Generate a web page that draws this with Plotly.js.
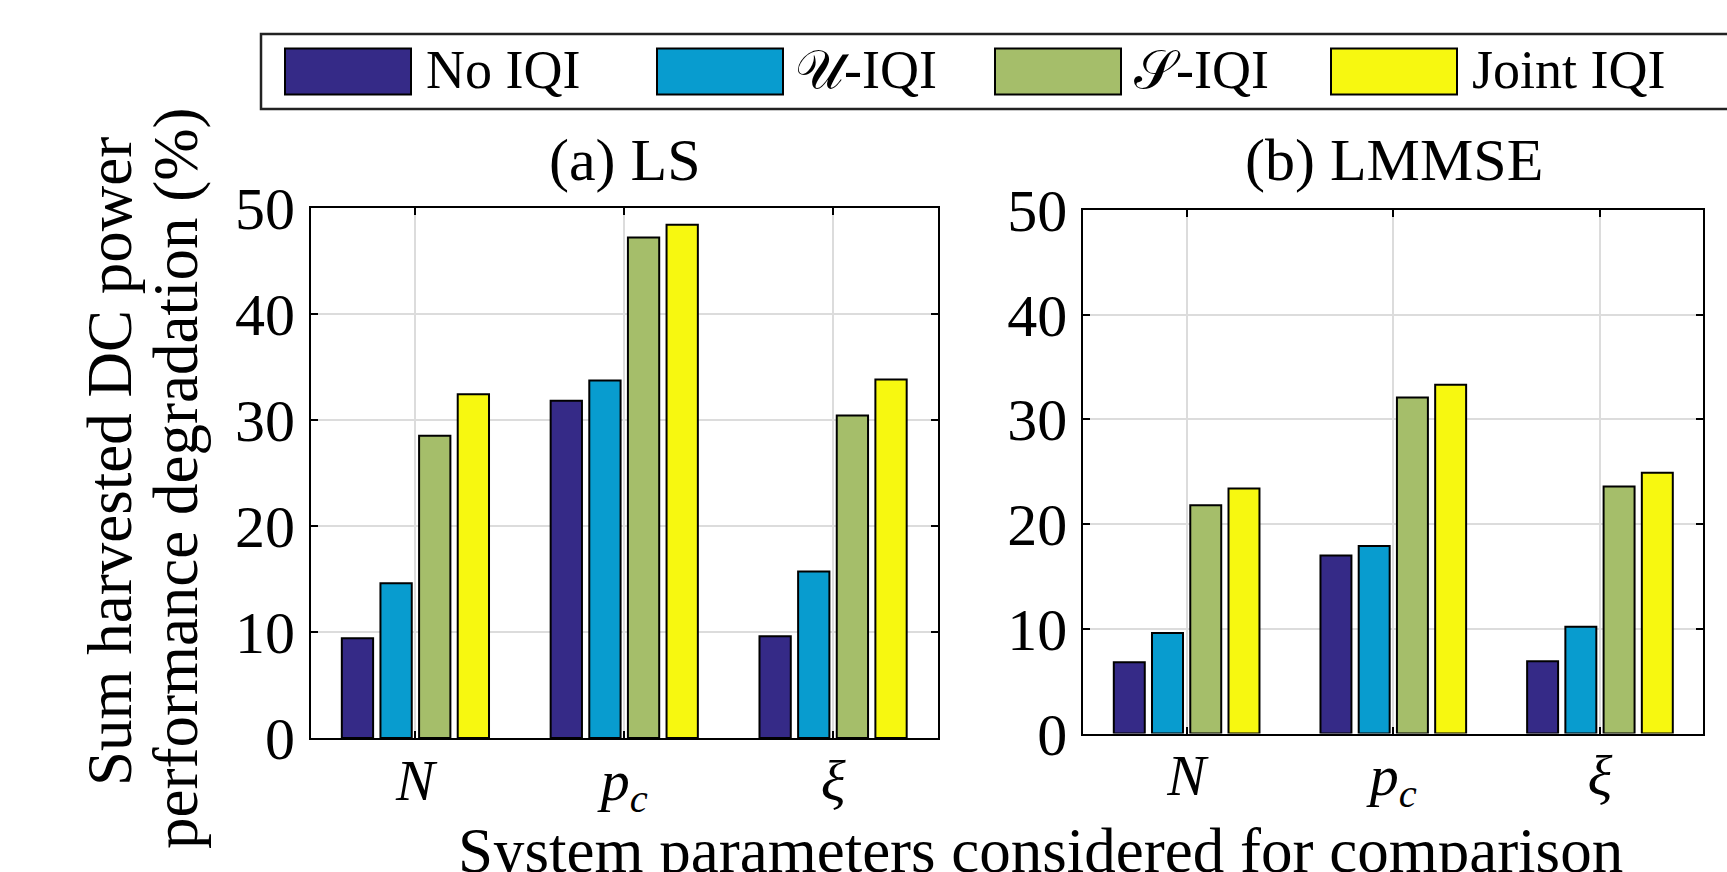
<!DOCTYPE html>
<html>
<head>
<meta charset="utf-8">
<script src="https://cdn.plot.ly/plotly-3.0.1.min.js"></script>
<style>html,body{margin:0;padding:0;background:#fff;}#chart{width:1727px;height:872px;}</style>
</head>
<body>
<div id="chart"></div>
<script>
// ---- data ----
const categories = ["<i>N</i>", "<i>p</i><sub><span style=\"color:#000\"><i>c</i></span></sub>", "<i>ξ</i>"];
const seriesNames = ["No IQI", "𝒰-IQI", "𝒮-IQI", "Joint IQI"];
const seriesColors = ["#352A87", "#089CCF", "#A5BE6A", "#F7F810"];
// (a) LS
const lsNoIQI    = [9.4, 31.8, 9.6];
const lsUIQI     = [14.6, 33.7, 15.7];
const lsSIQI     = [28.5, 47.2, 30.4];
const lsJointIQI = [32.4, 48.4, 33.8];
// (b) LMMSE
const lmNoIQI    = [6.8, 17.0, 6.9];
const lmUIQI     = [9.6, 17.9, 10.2];
const lmSIQI     = [21.8, 32.1, 23.6];
const lmJointIQI = [23.4, 33.3, 24.9];
const yTickVals = [0, 10, 20, 30, 40, 50];
const panelTitles = ["(a) LS", "(b) LMMSE"];
const yTitleLines = ["Sum harvested DC power", "performance degradation (%)"];
const xTitle = "System parameters considered for comparison";

const W = 1727, H = 872;
const px = v => v / W;
const py = v => 1 - v / H;
const FONT = "'Liberation Serif', 'DejaVu Serif', serif";

const lsData = [lsNoIQI, lsUIQI, lsSIQI, lsJointIQI];
const lmData = [lmNoIQI, lmUIQI, lmSIQI, lmJointIQI];

const traces = [];
lsData.forEach((vals, i) => traces.push({
  type: "bar", x: categories, y: vals, name: seriesNames[i], xaxis: "x", yaxis: "y",
  marker: {color: seriesColors[i], line: {color: "#000", width: 2}}, showlegend: false
}));
lmData.forEach((vals, i) => traces.push({
  type: "bar", x: categories, y: vals, name: seriesNames[i], xaxis: "x2", yaxis: "y2",
  marker: {color: seriesColors[i], line: {color: "#000", width: 2}}, showlegend: false
}));

function xAxis(domain, anchor) {
  return {
    domain: domain, anchor: anchor, type: "category",
    showline: true, linecolor: "#000", linewidth: 2, mirror: "ticks",
    ticks: "inside", ticklen: 7, tickwidth: 2, tickcolor: "#000",
    showgrid: true, gridcolor: "#dcdcdc", gridwidth: 2,
    tickfont: {family: FONT, size: 58, color: "#000"},
    ticklabelstandoff: -10, zeroline: false, fixedrange: true
  };
}
function yAxis(domain, anchor) {
  return {
    domain: domain, anchor: anchor, range: [0, 50], tickvals: yTickVals,
    showline: true, linecolor: "#000", linewidth: 2, mirror: "ticks",
    ticks: "inside", ticklen: 7, tickwidth: 2, tickcolor: "#000",
    showgrid: true, gridcolor: "#dcdcdc", gridwidth: 2,
    tickfont: {family: FONT, size: 60, color: "#000"},
    ticklabelstandoff: 2, zeroline: false, fixedrange: true
  };
}

const shapes = [];
const annotations = [];

// Legend box
shapes.push({type: "rect", xref: "paper", yref: "paper",
  x0: px(261), x1: px(1740), y0: py(109), y1: py(34),
  line: {color: "#222", width: 2.5}, fillcolor: "#fff", layer: "below"});
const swX = [285, 657, 995, 1331];
const txX = [424, 793, 1132, 1470];
seriesNames.forEach((n, i) => {
  shapes.push({type: "rect", xref: "paper", yref: "paper",
    x0: px(swX[i]), x1: px(swX[i] + 126), y0: py(94.5), y1: py(48.5),
    line: {color: "#000", width: 2}, fillcolor: seriesColors[i]});
  annotations.push({xref: "paper", yref: "paper", x: px(txX[i]), y: py(70),
    xanchor: "left", yanchor: "middle", text: n, showarrow: false,
    font: {family: FONT, size: 54, color: "#000"}});
});

// Panel titles
annotations.push({xref: "paper", yref: "paper", x: px(624.5), y: py(160), xanchor: "center", yanchor: "middle",
  text: panelTitles[0], showarrow: false, font: {family: FONT, size: 60, color: "#000"}});
annotations.push({xref: "paper", yref: "paper", x: px(1393.5), y: py(160), xanchor: "center", yanchor: "middle",
  text: panelTitles[1], showarrow: false, font: {family: FONT, size: 60, color: "#000"}});
// Y title (two lines)
annotations.push({xref: "paper", yref: "paper", x: px(110), y: py(462), xanchor: "center", yanchor: "middle",
  text: yTitleLines[0], textangle: -90, showarrow: false, font: {family: FONT, size: 63, color: "#000"}});
annotations.push({xref: "paper", yref: "paper", x: px(176), y: py(478), xanchor: "center", yanchor: "middle",
  text: yTitleLines[1], textangle: -90, showarrow: false, font: {family: FONT, size: 63, color: "#000"}});
// X title
annotations.push({xref: "paper", yref: "paper", x: px(1040), y: py(851), xanchor: "center", yanchor: "middle",
  text: xTitle, showarrow: false, font: {family: FONT, size: 63, color: "#000"}});

const layout = {
  width: W, height: H, margin: {l: 0, r: 0, t: 0, b: 0},
  paper_bgcolor: "#fff", plot_bgcolor: "#fff",
  barmode: "group", bargap: 0.26, bargroupgap: 0.19,
  showlegend: false,
  xaxis: xAxis([px(311), px(937.5)], "y"),
  yaxis: yAxis([py(738), py(207.7)], "x"),
  xaxis2: xAxis([px(1083.3), px(1703.3)], "y2"),
  yaxis2: yAxis([py(733.5), py(210)], "x2"),
  shapes: shapes, annotations: annotations
};

Plotly.newPlot("chart", traces, layout, {displayModeBar: false, staticPlot: true});
</script>
</body>
</html>
